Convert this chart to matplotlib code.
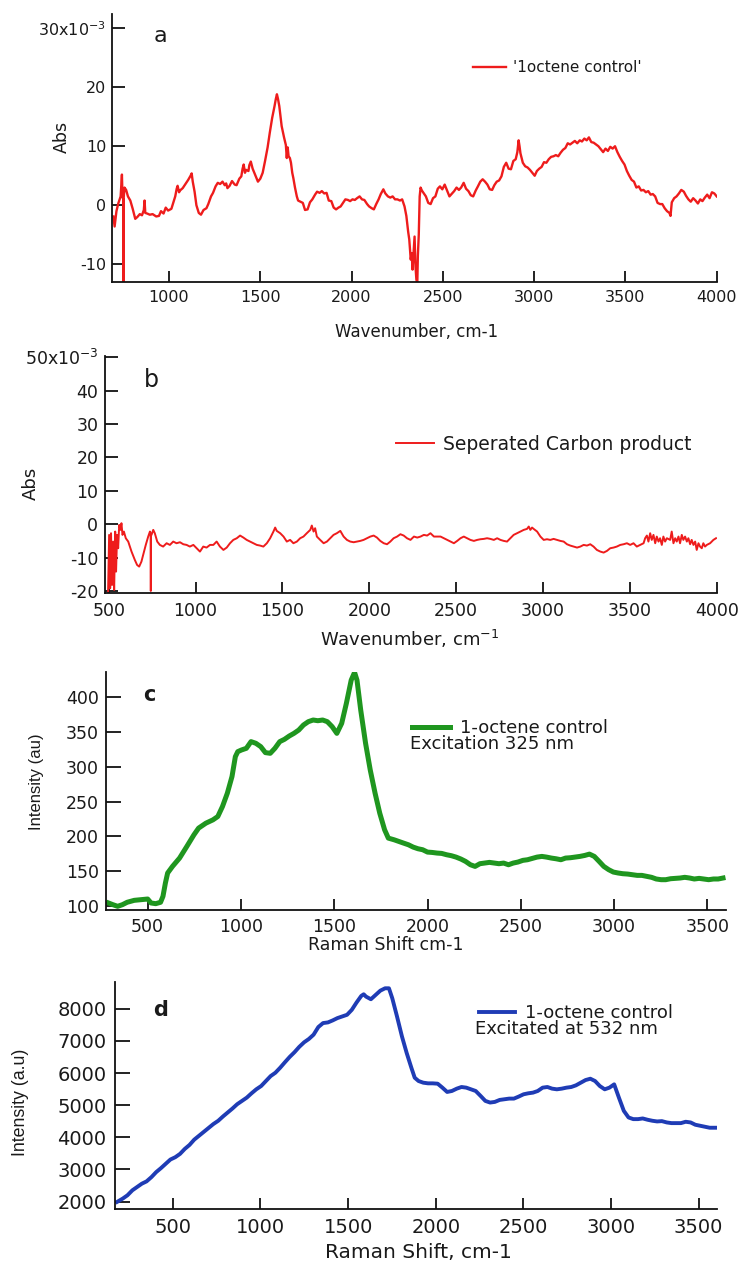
import matplotlib
matplotlib.use('Agg')
import matplotlib.pyplot as plt
import numpy as np

plt.rcParams['font.family'] = ['DejaVu Sans']

# ---------------- data ----------------
# panel a : FTIR of 1-octene control  (wavenumber, Abs x1e-3)
spec_a = [(695, -1.9), (702, -3.6), (712, -1.0), (722, 0.3), (735, 1.5), (742, 5.2), (745, 1.5),
          (749, 1.0), (750, -14.0), (751, 1.0), (756, 3.0), (765, 2.6), (775, 1.5), (788, 0.8),
          (801, -0.6), (815, -2.3), (826, -2.0), (840, -1.5), (852, -1.7), (862, -0.8), (866, 0.8),
          (870, -1.3), (880, -1.4), (895, -1.6), (910, -1.5), (930, -1.9), (945, -1.8), (956, -1.0),
          (970, -1.4), (982, -0.4), (995, -0.9), (1013, -0.6), (1025, 0.6), (1034, 1.5), (1042, 2.8),
          (1047, 3.3), (1055, 2.2), (1060, 2.5), (1075, 2.9), (1090, 3.6), (1105, 4.3), (1118, 5.0),
          (1124, 5.4), (1130, 4.0), (1140, 2.3), (1150, 0.0), (1163, -1.3), (1175, -1.6), (1189, -0.8),
          (1205, -0.5), (1215, 0.2), (1230, 1.5), (1241, 2.1), (1255, 3.2), (1267, 3.8), (1280, 3.6),
          (1293, 4.0), (1305, 3.4), (1313, 3.7), (1320, 2.9), (1332, 3.3), (1345, 4.1), (1360, 3.5),
          (1370, 3.4), (1385, 4.5), (1396, 4.9), (1403, 6.2), (1409, 6.9), (1416, 5.5), (1422, 6.0),
          (1435, 5.8), (1440, 6.8), (1448, 7.4), (1458, 6.2), (1474, 5.0), (1487, 4.0), (1500, 4.5),
          (1513, 5.5), (1526, 7.5), (1540, 9.8), (1552, 12.3), (1565, 14.8), (1578, 16.8), (1585, 18.0),
          (1591, 18.8), (1597, 18.0), (1604, 16.8), (1617, 13.4), (1630, 11.5), (1640, 10.2), (1645, 8.0),
          (1650, 9.8), (1655, 8.3), (1662, 8.0), (1668, 7.2), (1675, 5.5), (1681, 4.6), (1690, 3.0),
          (1700, 1.5), (1707, 0.8), (1720, 0.6), (1733, 0.4), (1745, -0.8), (1759, -0.7), (1772, 0.5),
          (1785, 1.0), (1800, 1.8), (1811, 2.3), (1825, 2.1), (1837, 2.4), (1850, 2.0), (1863, 2.1),
          (1875, 0.8), (1889, 0.7), (1902, -0.4), (1915, -0.7), (1928, -0.4), (1940, -0.2), (1955, 0.5),
          (1966, 1.0), (1980, 0.9), (1992, 0.7), (2005, 1.0), (2018, 0.9), (2030, 1.2), (2044, 1.5),
          (2057, 1.0), (2070, 0.9), (2085, 0.2), (2096, -0.2), (2110, -0.5), (2122, -0.7), (2135, 0.2),
          (2148, 1.0), (2160, 1.9), (2174, 2.7), (2185, 2.0), (2199, 1.5), (2212, 1.3), (2225, 1.5),
          (2238, 1.0), (2251, 1.0), (2265, 0.8), (2277, 1.0), (2290, -0.2), (2300, -1.8), (2310, -4.5),
          (2316, -5.8), (2324, -9.2), (2329, -8.1), (2334, -10.9), (2340, -8.0), (2345, -5.3), (2350, -10.3),
          (2355, -12.6), (2360, -13.2), (2363, -8.6), (2368, -5.0), (2373, 1.5), (2378, 3.0), (2385, 2.5),
          (2394, 2.1), (2407, 1.5), (2420, 0.4), (2433, 0.2), (2446, 1.2), (2459, 1.5), (2472, 2.8),
          (2484, 3.2), (2497, 2.7), (2510, 3.5), (2523, 2.5), (2536, 1.5), (2550, 2.0), (2562, 2.4),
          (2575, 3.0), (2588, 2.6), (2600, 3.0), (2614, 3.8), (2627, 2.8), (2640, 2.4), (2653, 1.7),
          (2666, 1.5), (2680, 2.5), (2692, 3.2), (2705, 4.0), (2718, 4.4), (2731, 4.0), (2744, 3.5),
          (2757, 2.7), (2770, 2.6), (2782, 3.4), (2795, 4.0), (2808, 4.2), (2821, 4.9), (2834, 6.5),
          (2847, 7.2), (2860, 6.2), (2873, 6.1), (2886, 7.5), (2899, 7.8), (2908, 9.0), (2915, 11.0),
          (2920, 10.0), (2925, 8.8), (2938, 7.2), (2951, 6.6), (2964, 6.4), (2977, 6.0), (2990, 5.5),
          (3003, 5.0), (3015, 5.8), (3028, 6.2), (3041, 6.5), (3054, 7.3), (3067, 7.2), (3080, 7.8),
          (3093, 8.2), (3106, 8.3), (3119, 8.5), (3132, 8.3), (3145, 8.9), (3158, 9.4), (3171, 9.7),
          (3184, 10.5), (3197, 10.3), (3210, 10.6), (3223, 10.9), (3236, 10.5), (3250, 11.0), (3262, 10.8),
          (3275, 11.3), (3288, 11.0), (3300, 11.5), (3313, 10.7), (3326, 10.6), (3339, 10.3), (3352, 10.0),
          (3365, 9.5), (3378, 9.0), (3391, 9.6), (3404, 9.2), (3417, 9.9), (3430, 9.6), (3443, 10.0),
          (3456, 9.0), (3469, 8.2), (3482, 7.5), (3495, 6.9), (3508, 5.8), (3521, 5.0), (3534, 4.3),
          (3547, 4.0), (3560, 3.0), (3573, 3.2), (3586, 2.5), (3599, 2.6), (3612, 2.2), (3625, 2.4),
          (3638, 1.8), (3650, 1.9), (3663, 1.5), (3676, 0.4), (3690, 0.2), (3702, 0.2), (3715, -0.5),
          (3728, -1.0), (3741, -1.3), (3747, -1.8), (3754, 0.5), (3767, 1.2), (3780, 1.5), (3793, 2.0),
          (3806, 2.6), (3820, 2.3), (3832, 1.6), (3845, 1.0), (3858, 0.6), (3871, 1.2), (3884, 0.8),
          (3897, 0.3), (3910, 1.0), (3922, 0.7), (3935, 1.3), (3948, 1.8), (3961, 1.2), (3974, 2.2),
          (3987, 2.0), (4000, 1.5)]

# panel b : FTIR of separated carbon product (wavenumber, Abs x1e-3)
spec_b = [(496, -20.2), (502, -3.2), (508, -19.2), (513, -2.7), (519, -18.2), (525, -5.2), (531, -19.7),
          (537, -2.2), (542, -14.2), (548, -3.2), (554, -7.2), (560, -0.2), (567, -1.7), (573, 0.3),
          (579, -3.2), (587, -2.2), (598, -4.2), (612, -5.2), (631, -8.2), (650, -10.7), (663, -12.2),
          (675, -12.7), (688, -11.2), (698, -9.2), (713, -6.2), (727, -3.7), (737, -2.2), (741, -3.0),
          (742, -20.0), (743, -3.2), (746, -3.2), (756, -1.7), (765, -2.7), (779, -5.2), (794, -6.2),
          (813, -6.7), (833, -5.7), (852, -6.2), (871, -5.2), (890, -5.7), (910, -5.4), (929, -6.0),
          (948, -6.2), (967, -6.7), (987, -6.2), (1006, -7.2), (1025, -8.2), (1044, -6.7), (1063, -7.0),
          (1083, -6.2), (1102, -6.2), (1121, -5.2), (1140, -6.7), (1160, -7.7), (1179, -7.0), (1198, -5.7),
          (1217, -4.7), (1237, -4.2), (1256, -3.4), (1275, -4.0), (1294, -4.7), (1313, -5.2), (1333, -5.7),
          (1352, -6.2), (1371, -6.4), (1390, -6.7), (1410, -5.7), (1429, -4.2), (1448, -2.2), (1458, -1.0),
          (1467, -2.0), (1487, -2.7), (1506, -3.7), (1525, -5.2), (1544, -4.7), (1563, -5.7), (1583, -5.2),
          (1602, -4.2), (1621, -3.7), (1640, -2.7), (1660, -1.7), (1669, -0.4), (1679, -2.2), (1688, -1.2),
          (1698, -3.7), (1717, -4.7), (1737, -5.7), (1756, -5.2), (1775, -4.2), (1794, -3.2), (1813, -2.7),
          (1833, -2.0), (1852, -3.7), (1871, -4.7), (1890, -5.2), (1910, -5.4), (1929, -5.2), (1948, -5.0),
          (1967, -4.7), (1986, -4.2), (2006, -3.7), (2025, -3.4), (2044, -4.0), (2063, -5.0), (2083, -5.7),
          (2102, -6.0), (2121, -5.2), (2140, -4.2), (2160, -3.7), (2179, -3.0), (2198, -3.4), (2217, -4.2),
          (2237, -4.7), (2257, -3.7), (2276, -4.0), (2295, -3.7), (2314, -3.2), (2333, -3.4), (2352, -2.7),
          (2372, -3.7), (2391, -3.7), (2410, -3.7), (2429, -4.2), (2448, -4.7), (2467, -5.2), (2487, -5.7),
          (2506, -5.0), (2525, -4.2), (2544, -3.7), (2563, -4.2), (2582, -4.7), (2602, -5.0), (2621, -4.7),
          (2640, -4.5), (2659, -4.4), (2678, -4.2), (2697, -4.4), (2717, -4.7), (2736, -4.2), (2755, -4.7),
          (2774, -5.0), (2793, -5.2), (2812, -4.2), (2831, -3.2), (2851, -2.7), (2870, -2.2), (2889, -1.7),
          (2908, -1.4), (2918, -0.7), (2927, -1.7), (2937, -1.0), (2946, -1.4), (2966, -2.2), (2985, -3.7),
          (3004, -4.7), (3023, -4.5), (3042, -4.7), (3061, -4.4), (3081, -4.7), (3100, -5.0), (3119, -5.2),
          (3138, -6.0), (3157, -6.4), (3176, -6.7), (3196, -7.0), (3215, -6.7), (3234, -6.2), (3253, -6.4),
          (3272, -6.0), (3291, -6.7), (3310, -7.7), (3330, -8.2), (3349, -8.5), (3368, -8.0), (3387, -7.2),
          (3406, -7.0), (3425, -6.7), (3445, -6.2), (3464, -6.0), (3483, -5.7), (3502, -6.2), (3521, -5.7),
          (3540, -6.7), (3560, -6.2), (3579, -5.7), (3588, -4.2), (3598, -3.4), (3607, -5.2), (3617, -2.7),
          (3626, -4.7), (3636, -3.2), (3646, -5.7), (3655, -3.7), (3665, -5.2), (3674, -4.2), (3684, -6.2),
          (3693, -3.7), (3703, -5.2), (3713, -4.2), (3732, -4.7), (3741, -2.2), (3751, -5.7), (3761, -4.2),
          (3770, -5.2), (3780, -3.7), (3789, -5.7), (3799, -3.2), (3808, -4.7), (3818, -3.7), (3828, -5.2),
          (3837, -4.2), (3847, -6.0), (3856, -4.7), (3866, -6.2), (3876, -5.2), (3885, -7.7), (3895, -5.7),
          (3904, -6.7), (3914, -7.2), (3923, -5.7), (3933, -6.7), (3943, -6.2), (3962, -5.7), (3981, -4.7),
          (3996, -4.2)]

# panel c : Raman, excitation 325 nm (shift, intensity)
spec_c = [(290, 104.3), (313, 101.9), (339, 99.5), (365, 101.9), (390, 105.3), (428, 108.1), (467, 109.1),
          (500, 110.0), (518, 104.3), (543, 103.3), (569, 105.3), (582, 113.9), (595, 133.0), (607, 147.4),
          (633, 156.9), (671, 168.9), (710, 185.7), (748, 202.4), (773, 212.0), (812, 219.1), (850, 223.9),
          (876, 228.7), (901, 243.1), (927, 262.2), (952, 286.2), (970, 314.8), (983, 322.0), (1003, 324.4),
          (1029, 326.8), (1054, 336.4), (1080, 334.0), (1106, 329.2), (1131, 320.6), (1157, 319.6),
          (1182, 326.8), (1208, 336.4), (1233, 339.7), (1259, 344.5), (1284, 348.3), (1310, 353.1),
          (1335, 360.3), (1361, 365.1), (1387, 367.5), (1412, 366.5), (1438, 367.5), (1463, 365.1),
          (1489, 357.9), (1514, 348.3), (1540, 362.7), (1565, 391.4), (1591, 424.9), (1609, 436.0),
          (1622, 424.9), (1642, 381.8), (1668, 334.0), (1693, 295.7), (1719, 262.2), (1744, 233.5),
          (1770, 209.6), (1790, 197.6), (1821, 195.2), (1846, 192.8), (1872, 190.4), (1898, 188.0),
          (1923, 184.7), (1949, 182.3), (1974, 180.9), (2000, 177.5), (2025, 177.0), (2051, 176.1),
          (2076, 175.6), (2102, 173.7), (2128, 172.3), (2153, 170.3), (2179, 167.5), (2204, 164.1),
          (2230, 159.3), (2255, 156.9), (2281, 160.8), (2306, 161.7), (2332, 162.7), (2357, 161.7),
          (2383, 160.8), (2408, 161.7), (2434, 159.3), (2459, 161.7), (2485, 163.2), (2511, 165.6),
          (2536, 166.5), (2562, 168.4), (2587, 170.3), (2613, 171.3), (2638, 170.3), (2664, 168.9),
          (2689, 167.9), (2715, 166.5), (2740, 168.9), (2766, 169.4), (2792, 170.3), (2817, 171.3),
          (2843, 172.7), (2868, 174.6), (2894, 171.3), (2920, 164.1), (2945, 156.9), (2971, 152.2),
          (2996, 148.8), (3022, 147.4), (3047, 146.4), (3073, 145.9), (3098, 145.0), (3124, 144.0),
          (3149, 144.0), (3175, 142.6), (3201, 141.2), (3226, 138.8), (3252, 137.8), (3277, 137.8),
          (3303, 139.2), (3328, 139.7), (3354, 140.2), (3379, 141.2), (3405, 140.2), (3430, 138.8),
          (3456, 139.7), (3481, 138.8), (3507, 137.8), (3533, 138.8), (3558, 138.8), (3584, 140.2)]

# panel d : Raman, excitation 532 nm (shift, intensity)
spec_d = [(182, 1990), (214, 2093), (241, 2196), (269, 2351), (296, 2454), (323, 2557), (350, 2629),
          (378, 2763), (405, 2918), (432, 3041), (459, 3175), (486, 3309), (514, 3382), (541, 3485),
          (568, 3639), (595, 3763), (622, 3928), (650, 4052), (677, 4175), (704, 4289), (731, 4413),
          (759, 4516), (786, 4650), (813, 4773), (840, 4897), (867, 5031), (895, 5134), (922, 5237),
          (949, 5371), (976, 5495), (1004, 5598), (1031, 5753), (1058, 5907), (1085, 6011), (1112, 6165),
          (1140, 6341), (1167, 6505), (1194, 6650), (1221, 6815), (1249, 6959), (1276, 7062), (1303, 7196),
          (1330, 7433), (1357, 7557), (1385, 7578), (1412, 7640), (1439, 7712), (1466, 7763), (1494, 7815),
          (1521, 7969), (1548, 8196), (1575, 8402), (1589, 8454), (1602, 8382), (1630, 8299), (1657, 8433),
          (1684, 8567), (1711, 8640), (1733, 8640), (1752, 8330), (1779, 7763), (1807, 7145), (1834, 6629),
          (1861, 6165), (1880, 5856), (1902, 5753), (1929, 5701), (1956, 5681), (1983, 5681), (2011, 5670),
          (2038, 5547), (2065, 5413), (2092, 5443), (2120, 5516), (2147, 5567), (2174, 5547), (2201, 5495),
          (2228, 5443), (2256, 5289), (2283, 5134), (2310, 5083), (2337, 5103), (2365, 5165), (2392, 5186),
          (2419, 5206), (2446, 5206), (2473, 5268), (2501, 5340), (2528, 5371), (2555, 5392), (2582, 5443),
          (2610, 5547), (2637, 5567), (2664, 5516), (2691, 5495), (2719, 5516), (2746, 5547), (2773, 5567),
          (2800, 5619), (2827, 5701), (2855, 5784), (2882, 5825), (2909, 5753), (2936, 5598), (2964, 5495),
          (2991, 5547), (3018, 5650), (3045, 5237), (3073, 4825), (3100, 4619), (3127, 4567), (3154, 4567),
          (3181, 4588), (3209, 4547), (3236, 4516), (3263, 4495), (3290, 4505), (3318, 4464), (3345, 4443),
          (3372, 4443), (3399, 4443), (3426, 4485), (3454, 4464), (3481, 4392), (3508, 4361), (3535, 4330),
          (3563, 4299), (3590, 4299), (3603, 4299)]

a_x, a_y = np.array(spec_a).T
b_x, b_y = np.array(spec_b).T
c_x, c_y = np.array(spec_c).T
d_x, d_y = np.array(spec_d).T

a_yticks = [-10, 0, 10, 20, 30]
a_ylabels = ['-10', '0', '10', '20', '30x10$^{-3}$']
a_xticks = [1000, 1500, 2000, 2500, 3000, 3500, 4000]
b_yticks = [-20, -10, 0, 10, 20, 30, 40, 50]
b_ylabels = ['-20', '-10', '0', '10', '20', '30', '40', '50x10$^{-3}$']
b_xticks = [500, 1000, 1500, 2000, 2500, 3000, 3500, 4000]
c_yticks = [100, 150, 200, 250, 300, 350, 400]
c_xticks = [500, 1000, 1500, 2000, 2500, 3000, 3500]
d_yticks = [2000, 3000, 4000, 5000, 6000, 7000, 8000]
d_xticks = [500, 1000, 1500, 2000, 2500, 3000, 3500]

RED = '#ee1c1c'
GREEN = '#1f961f'
BLUE = '#1f3cb5'
TXT = '#1a1a1a'
NARROW = ['Liberation Sans', 'DejaVu Sans']

# ---------------- figure ----------------
W, H = 742, 1265
fig = plt.figure(figsize=(W / 100, H / 100), dpi=100)


def rect(l, r, t, b):
    return [l / W, 1 - b / H, (r - l) / W, (b - t) / H]


def ftext(x, y, s, **kw):
    kw.setdefault('color', TXT)
    fig.text(x / W, 1 - y / H, s, **kw)


def style(ax, xticks, yticks, ylabels, fs, ylen, xlen, ypad, xpad):
    for s in ('top', 'right'):
        ax.spines[s].set_visible(False)
    for s in ('left', 'bottom'):
        ax.spines[s].set_linewidth(1.3)
        ax.spines[s].set_color('#111111')
    ax.set_xticks(xticks)
    ax.set_yticks(yticks)
    ax.set_yticklabels(ylabels)
    ax.tick_params(axis='y', direction='in', length=ylen, width=1.3, pad=ypad,
                   labelsize=fs, colors='#111111', labelcolor=TXT)
    ax.tick_params(axis='x', direction='in', length=xlen, width=1.3, pad=xpad,
                   labelsize=fs, colors='#111111', labelcolor=TXT)
    ax.patch.set_alpha(0)


def legend(ax, line, label, x, y, fs, hl, htp):
    ax.legend([line], [label], loc='center left', bbox_to_anchor=(x / W, 1 - y / H),
              bbox_transform=fig.transFigure, frameon=False, borderpad=0, borderaxespad=0,
              handlelength=hl, handletextpad=htp, prop={'size': fs}, labelcolor=TXT)


# panel a
ax_a = fig.add_axes(rect(111.7, 716.7, 14, 282))
la, = ax_a.plot(a_x, a_y, color=RED, lw=1.7)
ax_a.set_xlim(686, 4000)
ax_a.set_ylim(-13.0, 32.4)
style(ax_a, a_xticks, a_yticks, a_ylabels, 11.5, 9, 8, 4, 6)
legend(ax_a, la, "'1octene control'", 473, 68, 11, 2.15, 0.45)
ftext(160, 36, 'a', fontsize=16, ha='center', va='center')
ftext(62, 137, 'Abs', fontsize=12.5, rotation=90, ha='center', va='center')
ftext(417, 332, 'Wavenumber, cm-1', fontsize=12, ha='center', va='center')

# panel b
ax_b = fig.add_axes(rect(105.3, 716.7, 356, 593.3))
lb, = ax_b.plot(b_x, b_y, color=RED, lw=1.4)
ax_b.set_xlim(480, 4000)
ax_b.set_ylim(-20.7, 50.4)
style(ax_b, b_xticks, b_yticks, b_ylabels, 12.5, 9, 8, 5, 6)
legend(ax_b, lb, 'Seperated Carbon product', 396, 444, 13.5, 2.0, 0.5)
ftext(151, 380, 'b', fontsize=17, ha='center', va='center')
ftext(31, 483, 'Abs', fontsize=13, rotation=90, ha='center', va='center')
ftext(410, 639, 'Wavenumber, cm$^{-1}$', fontsize=13, ha='center', va='center')

# panel c
ax_c = fig.add_axes(rect(105.7, 726, 671.7, 910))
lc, = ax_c.plot(c_x, c_y, color=GREEN, lw=3.6, solid_joinstyle='round')
ax_c.set_xlim(275, 3600)
ax_c.set_ylim(94.2, 437)
style(ax_c, c_xticks, c_yticks, [str(v) for v in c_yticks], 12.5, 11, 8, 5, 6)
legend(ax_c, lc, '1-octene control', 412, 728, 13, 2.1, 0.55)
ftext(409.5, 744, 'Excitation 325 nm', fontsize=13, ha='left', va='center')
ftext(149, 695, 'c', fontsize=15, fontweight='bold', ha='center', va='center')
ftext(37, 782, 'Intensity (au)', fontsize=12, rotation=90, ha='center', va='center',
      family=NARROW)
ftext(386, 945, 'Raman Shift cm-1', fontsize=12.5, ha='center', va='center')

# panel d
ax_d = fig.add_axes(rect(115, 716.7, 981.7, 1209.3))
ld, = ax_d.plot(d_x, d_y, color=BLUE, lw=2.8, solid_joinstyle='round')
ax_d.set_xlim(170, 3603)
ax_d.set_ylim(1760, 8845)
style(ax_d, d_xticks, d_yticks, [str(v) for v in d_yticks], 14, 11, 8, 6, 6)
legend(ax_d, ld, '1-octene control', 479, 1013, 13, 2.0, 0.55)
ftext(475, 1029, 'Excitated at 532 nm', fontsize=13, ha='left', va='center')
ftext(161, 1010, 'd', fontsize=15, fontweight='bold', ha='center', va='center')
ftext(21, 1102, 'Intensity (a.u)', fontsize=12.8, rotation=90, ha='center', va='center',
      family=NARROW)
ftext(418, 1253, 'Raman Shift, cm-1', fontsize=14.5, ha='center', va='center')

fig.savefig('out.png', dpi=100)
